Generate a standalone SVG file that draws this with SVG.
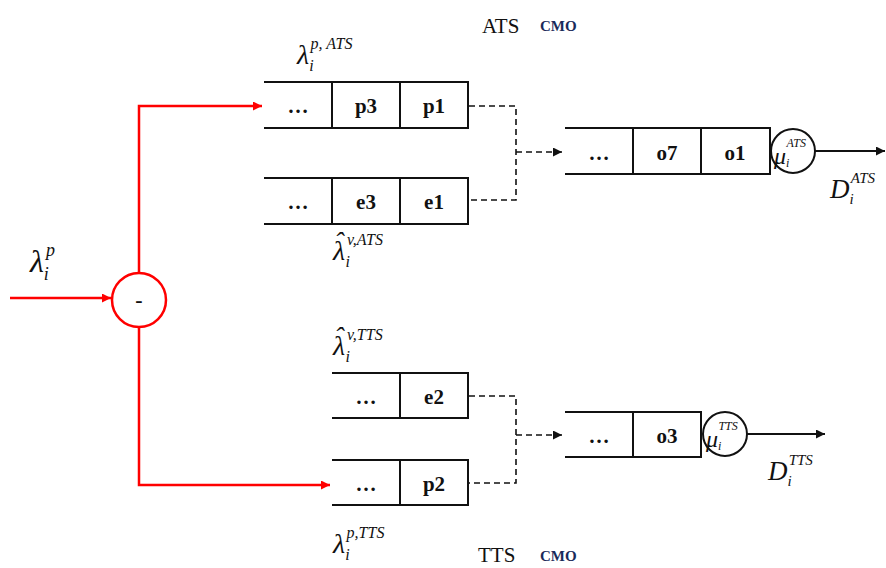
<svg xmlns="http://www.w3.org/2000/svg" width="886" height="568" viewBox="0 0 886 568">
<style>
.q{fill:none;stroke:#111;stroke-width:2}
.cell{font-family:"Liberation Serif",serif;font-weight:bold;font-size:21px;fill:#111;text-anchor:middle}
.red{fill:none;stroke:#f00;stroke-width:2.5}
.dash{fill:none;stroke:#111;stroke-width:1.6;stroke-dasharray:6 4}
.blk{fill:none;stroke:#111;stroke-width:2}
.m{font-family:"Liberation Serif",serif;font-style:italic;fill:#111}
.t{font-family:"Liberation Serif",serif;fill:#111}
.smo{font-family:"Liberation Serif",serif;font-weight:bold;font-size:15px;fill:#1a2a5a}
</style>
<defs>
<marker id="ar" viewBox="0 0 10 10" refX="10" refY="5" markerWidth="11" markerHeight="9" markerUnits="userSpaceOnUse" orient="auto"><path d="M0,0 L10,5 L0,10 z" fill="#f00"/></marker>
<marker id="ak" viewBox="0 0 10 10" refX="10" refY="5" markerWidth="10" markerHeight="9" markerUnits="userSpaceOnUse" orient="auto"><path d="M0,0 L10,5 L0,10 z" fill="#111"/></marker>
</defs>

<g id="connectors">
<path class="red" d="M10,298 H111" marker-end="url(#ar)"/>
<path class="red" d="M139,273 V106 H262" marker-end="url(#ar)"/>
<path class="red" d="M139,327 V485 H330" marker-end="url(#ar)"/>
<path class="dash" d="M469,106 H516 V200 H469"/>
<path class="dash" d="M516,152 H562" marker-end="url(#ak)"/>
<path class="dash" d="M469,396 H516 V483 H469"/>
<path class="dash" d="M516,435 H562" marker-end="url(#ak)"/>
<path class="blk" d="M815,151 H885" marker-end="url(#ak)"/>
<path class="blk" d="M747,434 H825" marker-end="url(#ak)"/>
</g>

<g id="splitter">
<circle cx="139" cy="300" r="27" fill="#fff" stroke="#f00" stroke-width="2.5"/>
<text x="139" y="307" class="t" font-size="22" text-anchor="middle" font-family="Liberation Sans, sans-serif" font-weight="bold">-</text>
</g>

<g id="queue-p-ats">
<path class="q" d="M264,82 H468 V128 H264 M332,82 V128 M400,82 V128"/>
<text x="298" y="113" class="cell">…</text>
<text x="366" y="113" class="cell">p3</text>
<text x="434" y="113" class="cell">p1</text>
</g>

<g id="queue-e-ats">
<path class="q" d="M264,178 H468 V224 H264 M332,178 V224 M400,178 V224"/>
<text x="298" y="209" class="cell">…</text>
<text x="366" y="209" class="cell">e3</text>
<text x="434" y="209" class="cell">e1</text>
</g>

<g id="server-ats">
<path class="q" d="M565,128 H770 V174 H565 M633,128 V174 M701,128 V174"/>
<text x="599" y="160" class="cell">…</text>
<text x="667" y="160" class="cell">o7</text>
<text x="735" y="160" class="cell">o1</text>
<circle cx="793" cy="151" r="22" fill="#fff" stroke="#111" stroke-width="2"/>
<text x="774" y="164" class="m" font-size="24">μ<tspan font-size="12" dy="3">i</tspan><tspan font-size="12" dx="-3" dy="-20">ATS</tspan></text>
</g>

<g id="queue-e-tts">
<path class="q" d="M332,373 H468 V418 H332 M400,373 V418"/>
<text x="366" y="404" class="cell">…</text>
<text x="434" y="404" class="cell">e2</text>
</g>

<g id="queue-p-tts">
<path class="q" d="M332,460 H468 V505 H332 M400,460 V505"/>
<text x="366" y="491" class="cell">…</text>
<text x="434" y="491" class="cell">p2</text>
</g>

<g id="server-tts">
<path class="q" d="M565,412 H701 V457 H565 M633,412 V457"/>
<text x="599" y="443" class="cell">…</text>
<text x="667" y="443" class="cell">o3</text>
<circle cx="725" cy="434" r="22" fill="#fff" stroke="#111" stroke-width="2"/>
<text x="706" y="447" class="m" font-size="24">μ<tspan font-size="12" dy="3">i</tspan><tspan font-size="12" dx="-3" dy="-20">TTS</tspan></text>
</g>

<g id="labels">
<text x="30" y="272" class="m" font-size="32">λ<tspan font-size="18" dy="8">i</tspan><tspan font-size="18" dx="-3" dy="-24">p</tspan></text>
<text x="297" y="64" class="m" font-size="28">λ<tspan font-size="16" dy="7">i</tspan><tspan font-size="16" dx="-3" dy="-22">p, ATS</tspan></text>
<text x="482" y="33" class="t" font-size="21">ATS</text>
<text x="540" y="31" class="smo">СМО</text>
<text x="333" y="260" class="m" font-size="28">λ<tspan dx="-11" dy="-9">ˆ</tspan><tspan font-size="16" dx="2" dy="16">i</tspan><tspan font-size="16" dx="-3" dy="-22">v,ATS</tspan></text>
<text x="333" y="355" class="m" font-size="28">λ<tspan dx="-11" dy="-9">ˆ</tspan><tspan font-size="16" dx="2" dy="16">i</tspan><tspan font-size="16" dx="-3" dy="-22">v,TTS</tspan></text>
<text x="333" y="553" class="m" font-size="28">λ<tspan font-size="16" dy="7">i</tspan><tspan font-size="16" dx="-3" dy="-22">p,TTS</tspan></text>
<text x="478" y="562" class="t" font-size="21">TTS</text>
<text x="540" y="561" class="smo">СМО</text>
<text x="830" y="198" class="m" font-size="27">D<tspan font-size="15" dy="6">i</tspan><tspan font-size="15" dx="-3" dy="-21">ATS</tspan></text>
<text x="768" y="480" class="m" font-size="27">D<tspan font-size="15" dy="6">i</tspan><tspan font-size="15" dx="-3" dy="-21">TTS</tspan></text>
</g>
</svg>
